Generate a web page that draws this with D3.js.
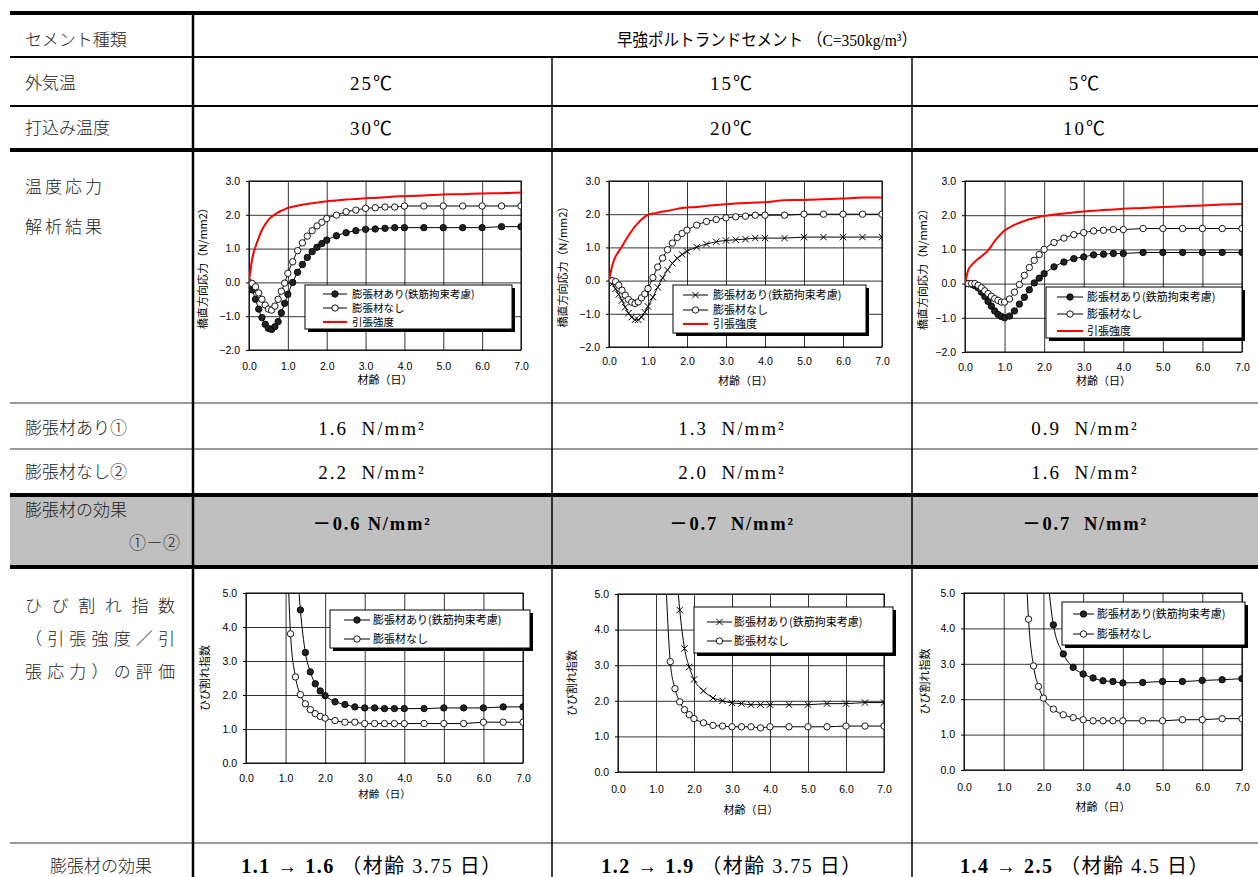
<!DOCTYPE html>
<html>
<head>
<meta charset="utf-8">
<script src="https://cdn.jsdelivr.net/npm/d3@7"></script>
<style>
  body { margin: 0; background: #fff; }
  svg { display: block; }
</style>
</head>
<body>
<div id="chart"></div>
<script>
// ---- data ----
var AGES = [0, 0.083, 0.167, 0.25, 0.333, 0.417, 0.5, 0.583, 0.667, 0.75, 0.833, 0.917, 1.0,
            1.125, 1.25, 1.375, 1.5, 1.625, 1.75, 1.875, 2.0,
            2.25, 2.5, 2.75, 3.0, 3.25, 3.5, 3.75, 4.0,
            4.5, 5.0, 5.5, 6.0, 6.5, 7.0];

// stress (N/mm2)
var STRESS_25_WITH = [0, -0.22, -0.5, -0.79, -1.04, -1.24, -1.36, -1.39, -1.31, -1.16, -0.9, -0.62, -0.35,
                      0.0, 0.3, 0.53, 0.74, 0.91, 1.04, 1.15, 1.25,
                      1.38, 1.47, 1.53, 1.57, 1.58, 1.6, 1.62, 1.62,
                      1.62, 1.62, 1.62, 1.62, 1.65, 1.65];
var STRESS_25_WITHOUT = [0, -0.03, -0.13, -0.31, -0.5, -0.67, -0.79, -0.82, -0.7, -0.5, -0.26, -0.02, 0.27,
                         0.61, 0.94, 1.17, 1.37, 1.53, 1.67, 1.78, 1.89,
                         1.99, 2.09, 2.14, 2.19, 2.21, 2.23, 2.23, 2.26,
                         2.26, 2.26, 2.26, 2.26, 2.26, 2.26];
var STRENGTH_25 = [0, 0.7, 1.05, 1.32, 1.55, 1.72, 1.85, 1.94, 2.01, 2.07, 2.12, 2.16, 2.2,
                   2.24, 2.27, 2.3, 2.32, 2.34, 2.36, 2.38, 2.4,
                   2.42, 2.45, 2.47, 2.49, 2.5, 2.52, 2.54, 2.55,
                   2.57, 2.6, 2.61, 2.63, 2.64, 2.66];

var STRESS_15_WITH = [0, -0.1, -0.25, -0.42, -0.6, -0.8, -0.98, -1.1, -1.18, -1.18, -1.1, -0.95, -0.78,
                      -0.5, -0.2, 0.08, 0.32, 0.52, 0.67, 0.79, 0.88,
                      1.01, 1.1, 1.17, 1.21, 1.23, 1.25, 1.28, 1.28,
                      1.28, 1.31, 1.31, 1.31, 1.31, 1.31];
var STRESS_15_WITHOUT = [0, 0, -0.03, -0.14, -0.29, -0.44, -0.57, -0.65, -0.69, -0.64, -0.52, -0.4, -0.24,
                         0.09, 0.41, 0.68, 0.93, 1.13, 1.3, 1.42, 1.52,
                         1.67, 1.78, 1.84, 1.89, 1.92, 1.94, 1.97, 1.97,
                         1.97, 2.0, 2.0, 2.0, 2.0, 2.0];
var STRENGTH_15 = [0, 0.45, 0.72, 0.88, 1.03, 1.2, 1.36, 1.5, 1.63, 1.74, 1.84, 1.92, 1.98,
                   2.02, 2.05, 2.08, 2.1, 2.13, 2.16, 2.19, 2.2,
                   2.22, 2.25, 2.28, 2.3, 2.32, 2.34, 2.35, 2.36,
                   2.42, 2.43, 2.45, 2.47, 2.5, 2.5];

var STRESS_5_WITH = [0, 0, -0.02, -0.06, -0.13, -0.25, -0.38, -0.52, -0.66, -0.8, -0.9, -0.96, -1.0,
                     -0.95, -0.8, -0.6, -0.4, -0.18, 0.02, 0.16, 0.29,
                     0.49, 0.63, 0.73, 0.78, 0.84, 0.86, 0.88, 0.88,
                     0.91, 0.91, 0.91, 0.91, 0.91, 0.91];
var STRESS_5_WITHOUT = [0, 0, 0, 0, -0.05, -0.12, -0.21, -0.29, -0.37, -0.44, -0.49, -0.54, -0.54,
                        -0.45, -0.25, -0.03, 0.24, 0.47, 0.68, 0.85, 1.0,
                        1.2, 1.33, 1.43, 1.49, 1.54, 1.56, 1.58, 1.58,
                        1.61, 1.61, 1.61, 1.61, 1.61, 1.61];
var STRENGTH_5 = [0, 0.4, 0.54, 0.64, 0.72, 0.8, 0.88, 0.97, 1.1, 1.24, 1.36, 1.46, 1.55,
                  1.64, 1.72, 1.78, 1.83, 1.88, 1.92, 1.95, 1.98,
                  2.02, 2.05, 2.08, 2.11, 2.13, 2.15, 2.17, 2.19,
                  2.21, 2.24, 2.26, 2.28, 2.31, 2.33];

// crack index (null = not plotted)
var CRACK_25_WITH = [null, null, null, null, null, null, null, null, null, null, null, null, null,
                     null, 6.6, 4.5, 3.25, 2.68, 2.33, 2.12, 1.98,
                     1.8, 1.72, 1.65, 1.62, 1.62, 1.6, 1.6, 1.6,
                     1.6, 1.62, 1.62, 1.62, 1.65, 1.65];
var CRACK_25_WITHOUT = [null, null, null, null, null, null, null, null, null, null, null, null, 8.1,
                        3.8, 2.53, 2.01, 1.74, 1.57, 1.45, 1.37, 1.32,
                        1.25, 1.2, 1.2, 1.16, 1.16, 1.16, 1.16, 1.16,
                        1.16, 1.16, 1.16, 1.2, 1.2, 1.2];
var CRACK_15_WITH = [null, null, null, null, null, null, null, null, null, null, null, null, null,
                     null, null, null, 6.2, 4.55, 3.47, 2.95, 2.6,
                     2.28, 2.08, 2.0, 1.94, 1.92, 1.89, 1.89, 1.89,
                     1.89, 1.89, 1.92, 1.92, 1.95, 1.95];
var CRACK_15_WITHOUT = [null, null, null, null, null, null, null, null, null, null, null, null, null,
                        null, 5.6, 3.1, 2.34, 1.97, 1.75, 1.61, 1.5,
                        1.38, 1.31, 1.29, 1.27, 1.27, 1.27, 1.24, 1.27,
                        1.27, 1.27, 1.27, 1.29, 1.29, 1.29];
var CRACK_5_WITH = [null, null, null, null, null, null, null, null, null, null, null, null, null,
                    null, null, null, null, null, null, null, 6.8,
                    4.1, 3.28, 2.9, 2.71, 2.6, 2.52, 2.5, 2.46,
                    2.47, 2.5, 2.5, 2.53, 2.55, 2.58];
var CRACK_5_WITHOUT = [null, null, null, null, null, null, null, null, null, null, null, null, null,
                       null, null, null, 7.6, 4.26, 2.94, 2.36, 2.03,
                       1.72, 1.56, 1.48, 1.42, 1.39, 1.39, 1.39, 1.39,
                       1.39, 1.39, 1.42, 1.42, 1.45, 1.45];

var X_TICKS = [0, 1, 2, 3, 4, 5, 6, 7];
var STRESS_TICKS = [-2, -1, 0, 1, 2, 3];
var CRACK_TICKS = [0, 1, 2, 3, 4, 5];

var LEG_WITH = "膨張材あり(鉄筋拘束考慮)";
var LEG_WITHOUT = "膨張材なし";
var LEG_STRENGTH = "引張強度";

var CEMENT = "早強ポルトランドセメント （C=350kg/m³）";
var OUTSIDE_TEMP = ["25℃", "15℃", "5℃"];
var PLACING_TEMP = ["30℃", "20℃", "10℃"];
var MAX_WITH = ["1.6  N/mm²", "1.3  N/mm²", "0.9  N/mm²"];
var MAX_WITHOUT = ["2.2  N/mm²", "2.0  N/mm²", "1.6  N/mm²"];
var EFFECT = ["－0.6 N/mm²", "－0.7  N/mm²", "－0.7  N/mm²"];
var CRACK_FROM = ["1.1", "1.2", "1.4"];
var CRACK_TO = ["1.6", "1.9", "2.5"];
var CRACK_AGE = ["3.75", "3.75", "4.5"];

// ---- layout ----
var W = 1258, H = 877;
var COL_X = [193, 552, 912, 1258];
var COL_C = [372, 732, 1085];
var GOTHIC = '"Noto Sans CJK JP", sans-serif';
var SERIF = '"Liberation Serif", "Noto Sans CJK JP", serif';
var CHART_FONT = '"Liberation Sans", "Noto Sans CJK JP", sans-serif';

var svg = d3.select("#chart").append("svg").attr("width", W).attr("height", H);
svg.append("rect").attr("width", W).attr("height", H).attr("fill", "#fff");

// grey effect row
svg.append("rect").attr("x", 10).attr("y", 497).attr("width", W - 10).attr("height", 69).attr("fill", "#c0c0c0");

// horizontal rules
var RULES = [
    {y: 13, w: 4, c: "#000"}, {y: 57, w: 2, c: "#000"}, {y: 106, w: 2, c: "#000"},
    {y: 150, w: 4, c: "#000"}, {y: 403, w: 2, c: "#999"}, {y: 449, w: 2, c: "#999"},
    {y: 495, w: 4, c: "#000"}, {y: 567, w: 4, c: "#000"}, {y: 843, w: 2, c: "#999"}
];
svg.selectAll("line.rule").data(RULES).enter().append("line")
    .attr("x1", 10).attr("x2", W)
    .attr("y1", function(d) { return d.y; }).attr("y2", function(d) { return d.y; })
    .attr("stroke", function(d) { return d.c; })
    .attr("stroke-width", function(d) { return d.w; });

// vertical rules
svg.append("line").attr("x1", COL_X[0]).attr("x2", COL_X[0]).attr("y1", 13).attr("y2", H)
    .attr("stroke", "#000").attr("stroke-width", 2.5);
[COL_X[1], COL_X[2]].forEach(function(x) {
    svg.append("line").attr("x1", x).attr("x2", x).attr("y1", 57).attr("y2", H)
        .attr("stroke", "#000").attr("stroke-width", 1.5);
});

// left labels
function label(txt, x, y, opt) {
    opt = opt || {};
    var t = svg.append("text").attr("x", x).attr("y", y)
        .attr("dy", "0.35em")
        .attr("font-family", GOTHIC).attr("font-size", opt.size || 17)
        .attr("font-weight", 300)
        .attr("fill", "#222")
        .attr("text-anchor", opt.anchor || "start")
        .text(txt);
    if (opt.ls) t.attr("letter-spacing", opt.ls);
    if (opt.len) t.attr("textLength", opt.len).attr("lengthAdjust", "spacing");
    return t;
}
label("セメント種類", 25, 40);
label("外気温", 25, 83);
label("打込み温度", 25, 128);
label("温度応力", 25, 187, {ls: 3});
label("解析結果", 25, 227, {ls: 3});
label("膨張材あり①", 25, 428);
label("膨張材なし②", 25, 472);
label("膨張材の効果", 25, 510);
label("①－②", 180, 543, {anchor: "end"});
label("ひび割れ指数", 25, 606, {len: 150});
label("（引張強度／引", 25, 639, {len: 150});
label("張応力）の評価", 25, 672, {len: 150});
label("膨張材の効果", 101, 866, {anchor: "middle"});

// value cells
function value(txt, x, y, opt) {
    opt = opt || {};
    var t = svg.append("text").attr("x", x).attr("y", y).attr("dy", "0.35em")
        .attr("font-family", SERIF).attr("font-size", opt.size || 19)
        .attr("font-weight", opt.bold ? "bold" : "normal")
        .attr("letter-spacing", opt.ls === undefined ? 2 : opt.ls)
        .attr("text-anchor", "middle").attr("fill", "#000")
        .attr("xml:space", "preserve")
        .text(txt);
    if (opt.len) t.attr("textLength", opt.len).attr("lengthAdjust", "spacingAndGlyphs");
    return t;
}
value(CEMENT, 767, 40, {size: 17, ls: 0, len: 300});
COL_C.forEach(function(cx, i) {
    value(OUTSIDE_TEMP[i], cx, 83);
    value(PLACING_TEMP[i], cx, 128);
    value(MAX_WITH[i], cx, 428);
    value(MAX_WITHOUT[i], cx, 472);
    value(EFFECT[i], cx, 524, {bold: true, size: 18.5, ls: 1.8});
    var t = svg.append("text").attr("x", cx).attr("y", 866).attr("dy", "0.35em")
        .attr("font-family", SERIF).attr("font-size", 20).attr("letter-spacing", 1.5)
        .attr("text-anchor", "middle").attr("xml:space", "preserve");
    t.append("tspan").attr("font-weight", "bold").text(CRACK_FROM[i] + " → " + CRACK_TO[i]);
    t.append("tspan").text(" （材齢 " + CRACK_AGE[i] + " 日）");
});

// ---- charts ----
function drawChart(cfg) {
    var x = d3.scaleLinear().domain([0, 7]).range([cfg.x0, cfg.x1]);
    var y = d3.scaleLinear().domain([cfg.ticks[0], cfg.ticks[cfg.ticks.length - 1]]).range([cfg.y1, cfg.y0]);
    var g = svg.append("g").attr("font-family", CHART_FONT);
    var ph = cfg.y1 - cfg.y0, pw = cfg.x1 - cfg.x0;

    // grid
    g.append("g").attr("transform", "translate(0," + cfg.y1 + ")")
        .call(d3.axisBottom(x).tickValues(X_TICKS).tickSize(-ph).tickFormat(""))
        .call(function(a) { a.select(".domain").remove(); a.selectAll("line").attr("stroke", "#000").attr("stroke-width", 0.8); });
    g.append("g").attr("transform", "translate(" + cfg.x0 + ",0)")
        .call(d3.axisLeft(y).tickValues(cfg.ticks).tickSize(-pw).tickFormat(""))
        .call(function(a) { a.select(".domain").remove(); a.selectAll("line").attr("stroke", "#000").attr("stroke-width", 0.8); });

    // labelled axes
    var ya = g.append("g").attr("transform", "translate(" + cfg.x0 + ",0)")
        .call(d3.axisLeft(y).tickValues(cfg.ticks).tickSize(3).tickPadding(6).tickFormat(d3.format(".1f")));
    var xa = g.append("g").attr("transform", "translate(0," + cfg.y1 + ")")
        .call(d3.axisBottom(x).tickValues(X_TICKS).tickSize(0).tickPadding(cfg.tickDy - 5).tickFormat(d3.format(".1f")));
    [ya, xa].forEach(function(a) {
        a.select(".domain").remove();
        a.selectAll("text").attr("font-size", 10.5).attr("font-family", CHART_FONT).attr("fill", "#000");
        a.selectAll("line").attr("stroke", "#000");
    });

    g.append("rect").attr("x", cfg.x0).attr("y", cfg.y0).attr("width", pw).attr("height", ph)
        .attr("fill", "none").attr("stroke", "#000").attr("stroke-width", 1);

    g.append("text").attr("x", (cfg.x0 + cfg.x1) / 2).attr("y", cfg.y1 + cfg.titleDy).attr("dy", "0.35em")
        .attr("text-anchor", "middle").attr("font-size", cfg.titleFs || 11).attr("font-family", GOTHIC).text("材齢（日）");
    g.append("text")
        .attr("transform", "translate(" + cfg.ytx + "," + ((cfg.y0 + cfg.y1) / 2) + ") rotate(-90)")
        .attr("dy", "0.35em").attr("text-anchor", "middle").attr("font-size", 11)
        .attr("font-family", GOTHIC).text(cfg.ytitle);

    // series
    var clipId = "clip" + cfg.id;
    svg.append("clipPath").attr("id", clipId).append("rect")
        .attr("x", cfg.x0).attr("y", cfg.y0).attr("width", pw).attr("height", ph);
    var sg = g.append("g").attr("clip-path", "url(#" + clipId + ")");

    cfg.series.forEach(function(s) {
        var pts = AGES.map(function(a, i) { return [a, s.values[i]]; })
            .filter(function(p) { return p[1] !== null; });
        var line = d3.line().x(function(p) { return x(p[0]); }).y(function(p) { return y(p[1]); })
            .curve(d3.curveMonotoneX);
        sg.append("path").datum(pts).attr("d", line).attr("fill", "none")
            .attr("stroke", s.color).attr("stroke-width", s.width);
        drawMarkers(sg, pts.map(function(p) { return [x(p[0]), y(p[1])]; }), s.marker);
    });

    // legend
    var L = cfg.legend;
    var lg = g.append("g");
    lg.append("rect").attr("x", L.x + 3).attr("y", L.y + 3).attr("width", L.w).attr("height", L.h).attr("fill", "#000");
    lg.append("rect").attr("x", L.x).attr("y", L.y).attr("width", L.w).attr("height", L.h)
        .attr("fill", "#fff").attr("stroke", "#000").attr("stroke-width", 1);
    cfg.series.forEach(function(s, i) {
        var ly = L.ys[i];
        lg.append("line").attr("x1", L.lx0).attr("x2", L.lx1).attr("y1", ly).attr("y2", ly)
            .attr("stroke", s.color).attr("stroke-width", s.width);
        drawMarkers(lg, [[(L.lx0 + L.lx1) / 2, ly]], s.marker);
        lg.append("text").attr("x", L.tx).attr("y", ly).attr("dy", "0.35em")
            .attr("font-size", L.fs || 11).attr("font-family", GOTHIC).attr("fill", "#000").text(s.name);
    });
}

function drawMarkers(parent, pts, type) {
    if (!type) return;
    if (type === "cross") {
        parent.selectAll(null).data(pts).enter().append("path")
            .attr("d", function(p) {
                var r = 3.2;
                return "M" + (p[0] - r) + "," + (p[1] - r) + "L" + (p[0] + r) + "," + (p[1] + r) +
                       "M" + (p[0] - r) + "," + (p[1] + r) + "L" + (p[0] + r) + "," + (p[1] - r);
            })
            .attr("stroke", "#000").attr("stroke-width", 1).attr("fill", "none");
    } else {
        parent.selectAll(null).data(pts).enter().append("circle")
            .attr("cx", function(p) { return p[0]; }).attr("cy", function(p) { return p[1]; })
            .attr("r", 3.2)
            .attr("fill", type === "filled" ? "#222" : "#fff")
            .attr("stroke", "#000").attr("stroke-width", 0.9);
    }
}

var STRESS_TITLE = "橋直方向応力（N/mm2）";
var CRACK_TITLE = "ひび割れ指数";

var CHARTS = [
    {id: 1, x0: 249, x1: 521, y0: 181, y1: 350, ytx: 203, tickDy: 18, titleDy: 30,
     ticks: STRESS_TICKS, ytitle: STRESS_TITLE,
     legend: {x: 305, y: 285, w: 207, h: 44, lx0: 323, lx1: 347, tx: 352, ys: [294, 308, 322], fs: 10.5},
     series: [
        {name: LEG_WITH, values: STRESS_25_WITH, color: "#000", width: 1, marker: "filled"},
        {name: LEG_WITHOUT, values: STRESS_25_WITHOUT, color: "#000", width: 1, marker: "open"},
        {name: LEG_STRENGTH, values: STRENGTH_25, color: "#f00", width: 2, marker: null}]},
    {id: 2, x0: 609, x1: 882, y0: 181, y1: 347, ytx: 563, tickDy: 16, titleDy: 34,
     ticks: STRESS_TICKS, ytitle: STRESS_TITLE,
     legend: {x: 673, y: 285, w: 193, h: 48, lx0: 683, lx1: 708, tx: 713, ys: [295, 310, 324]},
     series: [
        {name: LEG_WITH, values: STRESS_15_WITH, color: "#000", width: 1, marker: "cross"},
        {name: LEG_WITHOUT, values: STRESS_15_WITHOUT, color: "#000", width: 1, marker: "open"},
        {name: LEG_STRENGTH, values: STRENGTH_15, color: "#f00", width: 2, marker: null}]},
    {id: 3, x0: 965, x1: 1242, y0: 181, y1: 352, ytx: 923, tickDy: 17, titleDy: 29,
     ticks: STRESS_TICKS, ytitle: STRESS_TITLE,
     legend: {x: 1046, y: 287, w: 196, h: 51, lx0: 1057, lx1: 1083, tx: 1087, ys: [297, 314, 331]},
     series: [
        {name: LEG_WITH, values: STRESS_5_WITH, color: "#000", width: 1, marker: "filled"},
        {name: LEG_WITHOUT, values: STRESS_5_WITHOUT, color: "#000", width: 1, marker: "open"},
        {name: LEG_STRENGTH, values: STRENGTH_5, color: "#f00", width: 2, marker: null}]},
    {id: 4, x0: 246, x1: 523, y0: 593, y1: 763, ytx: 205, tickDy: 17, titleDy: 31, titleFs: 10.5,
     ticks: CRACK_TICKS, ytitle: CRACK_TITLE,
     legend: {x: 330, y: 610, w: 200, h: 38, lx0: 344, lx1: 370, tx: 373, ys: [620, 639]},
     series: [
        {name: LEG_WITH, values: CRACK_25_WITH, color: "#000", width: 1, marker: "filled"},
        {name: LEG_WITHOUT, values: CRACK_25_WITHOUT, color: "#000", width: 1, marker: "open"}]},
    {id: 5, x0: 618, x1: 884, y0: 594, y1: 772, ytx: 572, tickDy: 19, titleDy: 38,
     ticks: CRACK_TICKS, ytitle: CRACK_TITLE,
     legend: {x: 694, y: 607, w: 199, h: 46, lx0: 707, lx1: 732, tx: 734, ys: [622, 641]},
     series: [
        {name: LEG_WITH, values: CRACK_15_WITH, color: "#000", width: 1, marker: "cross"},
        {name: LEG_WITHOUT, values: CRACK_15_WITHOUT, color: "#000", width: 1, marker: "open"}]},
    {id: 6, x0: 964, x1: 1242, y0: 593, y1: 770, ytx: 925, tickDy: 19, titleDy: 37,
     ticks: CRACK_TICKS, ytitle: CRACK_TITLE,
     legend: {x: 1062, y: 602, w: 183, h: 43, lx0: 1073, lx1: 1094, tx: 1097, ys: [614, 634]},
     series: [
        {name: LEG_WITH, values: CRACK_5_WITH, color: "#000", width: 1, marker: "filled"},
        {name: LEG_WITHOUT, values: CRACK_5_WITHOUT, color: "#000", width: 1, marker: "open"}]}
];
CHARTS.forEach(drawChart);
</script>
</body>
</html>
